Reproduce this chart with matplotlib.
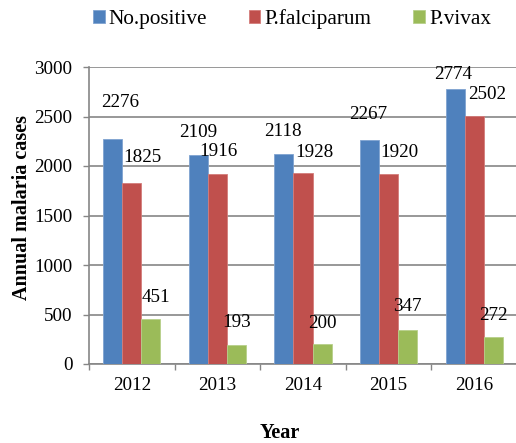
import matplotlib
matplotlib.use("Agg")
import matplotlib.pyplot as plt
import numpy as np

years = ["2012", "2013", "2014", "2015", "2016"]
series_names = ["No.positive", "P.falciparum", "P.vivax"]
no_positive = [2276, 2109, 2118, 2267, 2774]
p_falciparum = [1825, 1916, 1928, 1920, 2502]
p_vivax = [451, 193, 200, 347, 272]
yticks = [0, 500, 1000, 1500, 2000, 2500, 3000]

colors = ["#4F81BD", "#C0504D", "#9BBB59"]
edges = ["#7FA3D1", "#D47C7A", "#B7D08A"]
# label offsets (pixels) of label centre from bar top
label_offsets = [
    [(7, 36), (0, 23), (-1, 23), (-1, 25), (-2, 15)],
    [(11, 26), (1, 23), (11, 21), (11, 21), (13, 22)],
    [(5, 22), (0, 22), (0, 21), (0, 23), (0, 22)],
]

plt.rcParams["font.family"] = ["Liberation Serif", "DejaVu Serif"]

W, H = 516, 443
fig = plt.figure(figsize=(W / 100, H / 100), dpi=100)
ax_left, ax_right, ax_top, ax_bottom = 89, 517, 67, 364
ax = fig.add_axes([ax_left / W, 1 - ax_bottom / H, (ax_right - ax_left) / W, (ax_bottom - ax_top) / H])

x = np.arange(len(years))
bw = 0.222
data = [no_positive, p_falciparum, p_vivax]
for k, (vals, name) in enumerate(zip(data, series_names)):
    pos = x + (k - 1) * bw
    bars = ax.bar(pos, vals, width=bw, color=colors[k], edgecolor=edges[k],
                  linewidth=0.6, label=name, zorder=3)
    for j, (b, v) in enumerate(zip(bars, vals)):
        dx, dy = label_offsets[k][j]
        ax.annotate(str(v), (b.get_x() + b.get_width() / 2, v),
                    xytext=(dx, dy), textcoords="offset pixels",
                    ha="center", va="center", fontsize=13.8, color="black", zorder=4)

ax.set_xlim(-0.5, len(years) - 0.5)
ax.set_ylim(0, 3000)
ax.set_yticks(yticks)
ax.set_yticklabels([str(t) for t in yticks], fontsize=13.8)
ax.set_xticks(x)
ax.set_xticklabels(years, fontsize=13.8)
ax.set_xticks(np.arange(-0.5, len(years)), minor=True)
ax.tick_params(axis="x", which="major", length=0, pad=9)
ax.tick_params(axis="x", which="minor", length=4, width=1.0, color="#868686")
ax.tick_params(axis="y", which="major", length=4, width=1.0, color="#868686", pad=8)

ax.yaxis.grid(True, color="#868686", linewidth=1.2, zorder=0)
ax.set_axisbelow(True)
for s in ["top", "right"]:
    ax.spines[s].set_visible(False)
for s in ["left", "bottom"]:
    ax.spines[s].set_color("#868686")
    ax.spines[s].set_linewidth(1.2)

ax.set_ylabel("Annual malaria cases", fontsize=14.5, fontweight="bold")
ax.set_xlabel("Year", fontsize=14.5, fontweight="bold")
ax.yaxis.set_label_coords((22 - ax_left) / (ax_right - ax_left), (ax_bottom - 208) / (ax_bottom - ax_top))
ax.xaxis.set_label_coords((280 - ax_left) / (ax_right - ax_left), -(433 - ax_bottom) / (ax_bottom - ax_top))
ax.xaxis.label.set_va("center")
ax.yaxis.label.set_va("center")

fig.legend(loc="center", bbox_to_anchor=(292 / W, 1 - 19 / H), ncol=3, frameon=False,
           fontsize=15.3, handlelength=0.55, handleheight=0.55, handletextpad=0.2,
           columnspacing=1.95, borderpad=0, borderaxespad=0)

fig.savefig("out.png", dpi=100)
